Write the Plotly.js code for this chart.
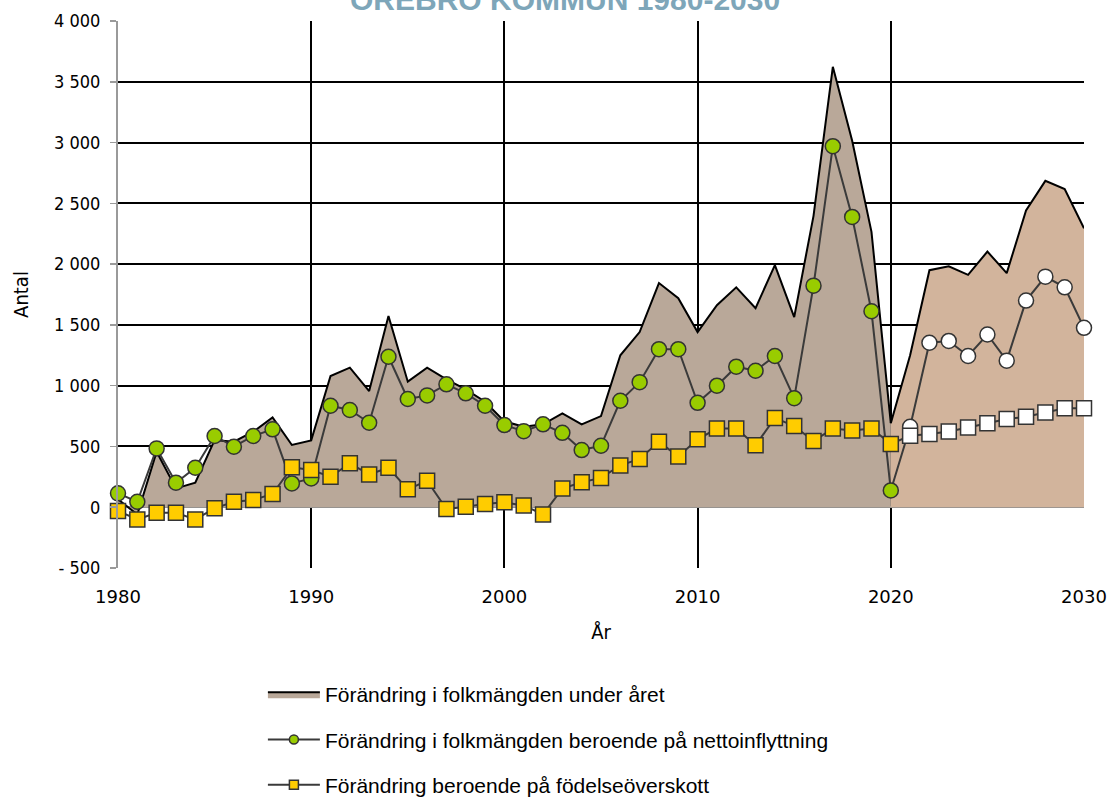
<!DOCTYPE html>
<html>
<head>
<meta charset="utf-8">
<script src="https://cdn.plot.ly/plotly-3.0.1.min.js"></script>
<style>html,body{margin:0;padding:0;background:#fff;}#chart{width:1113px;height:797px;}</style>
</head>
<body>
<div id="chart"></div>
<script>
const years = [];
for (let y = 1980; y <= 2030; y++) years.push(y);

const totalChange = [65, -60, 457, 155, 202, 553, 539, 621, 739, 512,
  550, 1079, 1148, 956, 1573, 1033, 1148, 1052, 970, 868,
  706, 662, 682, 771, 682, 750, 1250, 1441, 1844, 1720,
  1441, 1662, 1809, 1638, 1991, 1564, 2397, 3623, 3015, 2265,
  691, 1250, 1950, 1982, 1912, 2103, 1926, 2441, 2685, 2618, 2294];

const netMigration = [114, 45, 484, 202, 325, 586, 498, 586, 641, 196,
  237, 835, 800, 695, 1238, 890, 920, 1011, 937, 835,
  676, 626, 682, 612, 470, 506, 876, 1029, 1300, 1300,
  859, 1000, 1156, 1123, 1244, 897, 1823, 2970, 2388, 1612,
  138, 662, 1353, 1368, 1244, 1421, 1206, 1700, 1897, 1809, 1476];

const birthSurplus = [-31, -100, -45, -45, -100, -9, 45, 59, 109, 328,
  306, 251, 361, 270, 325, 147, 218, -15, 4, 26,
  40, 15, -59, 153, 206, 241, 344, 397, 538, 418,
  559, 647, 647, 509, 735, 668, 544, 647, 632, 647,
  521, 588, 603, 623, 656, 691, 726, 744, 779, 815, 815];

const lastHistoricYear = 2020;
const yTickVals = [-500, 0, 500, 1000, 1500, 2000, 2500, 3000, 3500, 4000];
const yTickText = ['- 500', '0', '500', '1 000', '1 500', '2 000', '2 500', '3 000', '3 500', '4 000'];
const xTickVals = [1980, 1990, 2000, 2010, 2020, 2030];

const seriesNames = [
  'Förändring i folkmängden under året',
  'Förändring i folkmängden beroende på nettoinflyttning',
  'Förändring beroende på födelseöverskott'
];
const titleText = 'ÖREBRO KOMMUN 1980-2030';

const histIdx = years.map((y, i) => i).filter(i => years[i] <= lastHistoricYear);
const progIdx = years.map((y, i) => i).filter(i => years[i] >= lastHistoricYear);

const greenFill = years.map(y => y <= lastHistoricYear ? '#99cc00' : '#ffffff');
const yellowFill = years.map(y => y <= lastHistoricYear ? '#ffcc00' : '#ffffff');

const traces = [
  {
    x: histIdx.map(i => years[i]), y: histIdx.map(i => totalChange[i]),
    type: 'scatter', mode: 'lines', fill: 'tozeroy',
    fillcolor: '#b9a899', line: {color: '#000000', width: 2},
    name: seriesNames[0], legendgroup: 'a', hoverinfo: 'x+y'
  },
  {
    x: progIdx.map(i => years[i]), y: progIdx.map(i => totalChange[i]),
    type: 'scatter', mode: 'lines', fill: 'tozeroy',
    fillcolor: '#d2b49c', line: {color: '#000000', width: 2},
    name: seriesNames[0], legendgroup: 'a', showlegend: false, hoverinfo: 'x+y'
  },
  {
    x: years, y: netMigration, type: 'scatter', mode: 'lines+markers',
    line: {color: '#3a3a3a', width: 2},
    marker: {symbol: 'circle', size: 15, color: greenFill, line: {color: '#333333', width: 1.5}},
    name: seriesNames[1], legendgroup: 'b', showlegend: false, cliponaxis: false
  },
  {
    x: years, y: birthSurplus, type: 'scatter', mode: 'lines+markers',
    line: {color: '#3a3a3a', width: 2},
    marker: {symbol: 'square', size: 15, color: yellowFill, line: {color: '#333333', width: 1.5}},
    name: seriesNames[2], legendgroup: 'c', showlegend: false, cliponaxis: false
  },
  // legend-only entries with smaller symbols, as in the reference legend
  {
    x: [null], y: [null], type: 'scatter', mode: 'lines+markers',
    line: {color: '#3a3a3a', width: 2},
    marker: {symbol: 'circle', size: 9, color: '#99cc00', line: {color: '#333333', width: 1.5}},
    name: seriesNames[1], legendgroup: 'b', hoverinfo: 'skip'
  },
  {
    x: [null], y: [null], type: 'scatter', mode: 'lines+markers',
    line: {color: '#3a3a3a', width: 2},
    marker: {symbol: 'square', size: 9, color: '#ffcc00', line: {color: '#333333', width: 1.5}},
    name: seriesNames[2], legendgroup: 'c', hoverinfo: 'skip'
  }
];

const baseFont = 'Liberation Sans, Arial, sans-serif';
const narrowFont = 'Liberation Sans Narrow, DejaVu Sans Condensed, Arial Narrow, sans-serif';

const layout = {
  width: 1113, height: 797,
  margin: {l: 118, r: 29, t: 21, b: 229, autoexpand: false},
  paper_bgcolor: '#ffffff', plot_bgcolor: '#ffffff',
  showlegend: true,
  font: {family: baseFont, color: '#000000', size: 19},
  xaxis: {
    range: [1980, 2030], tickvals: xTickVals, ticktext: xTickVals.map(String),
    showgrid: true, gridcolor: '#000000', gridwidth: 2,
    zeroline: false, showline: false, ticks: '',
    ticklabelstandoff: 16, automargin: false,
    tickfont: {family: 'DejaVu Sans, sans-serif', size: 18, color: '#000'},
    title: {text: 'År', font: {family: narrowFont, size: 20, color: '#000'}, standoff: 18},
    fixedrange: true
  },
  yaxis: {
    range: [-500, 4000], tickvals: yTickVals, ticktext: yTickText,
    showgrid: true, gridcolor: '#000000', gridwidth: 2,
    zeroline: true, zerolinecolor: '#8c8c8c', zerolinewidth: 2,
    showline: true, linecolor: '#9a9a9a', linewidth: 2,
    ticks: 'outside', ticklen: 6, tickcolor: '#9a9a9a', tickwidth: 1.5,
    ticklabelstandoff: 6, automargin: false,
    tickfont: {family: narrowFont, size: 18, color: '#000'},
    title: {text: 'Antal', font: {family: narrowFont, size: 20, color: '#000'}, standoff: 20},
    fixedrange: true
  },
  legend: {
    x: 0.150, xanchor: 'left', y: -0.194, yanchor: 'top',
    orientation: 'v', traceorder: 'grouped', tracegroupgap: 15,
    itemwidth: 52,
    bgcolor: 'rgba(0,0,0,0)', borderwidth: 0,
    font: {family: baseFont, size: 21, color: '#000'}
  },
  annotations: [{
    text: titleText, xref: 'paper', yref: 'paper', x: 0.4627, y: 1.0395,
    xanchor: 'center', yanchor: 'middle', showarrow: false,
    font: {family: baseFont, size: 30, color: '#7ea6b9', weight: 'bold'}
  }]
};

Plotly.newPlot('chart', traces, layout, {staticPlot: true, displayModeBar: false});
</script>
</body>
</html>
